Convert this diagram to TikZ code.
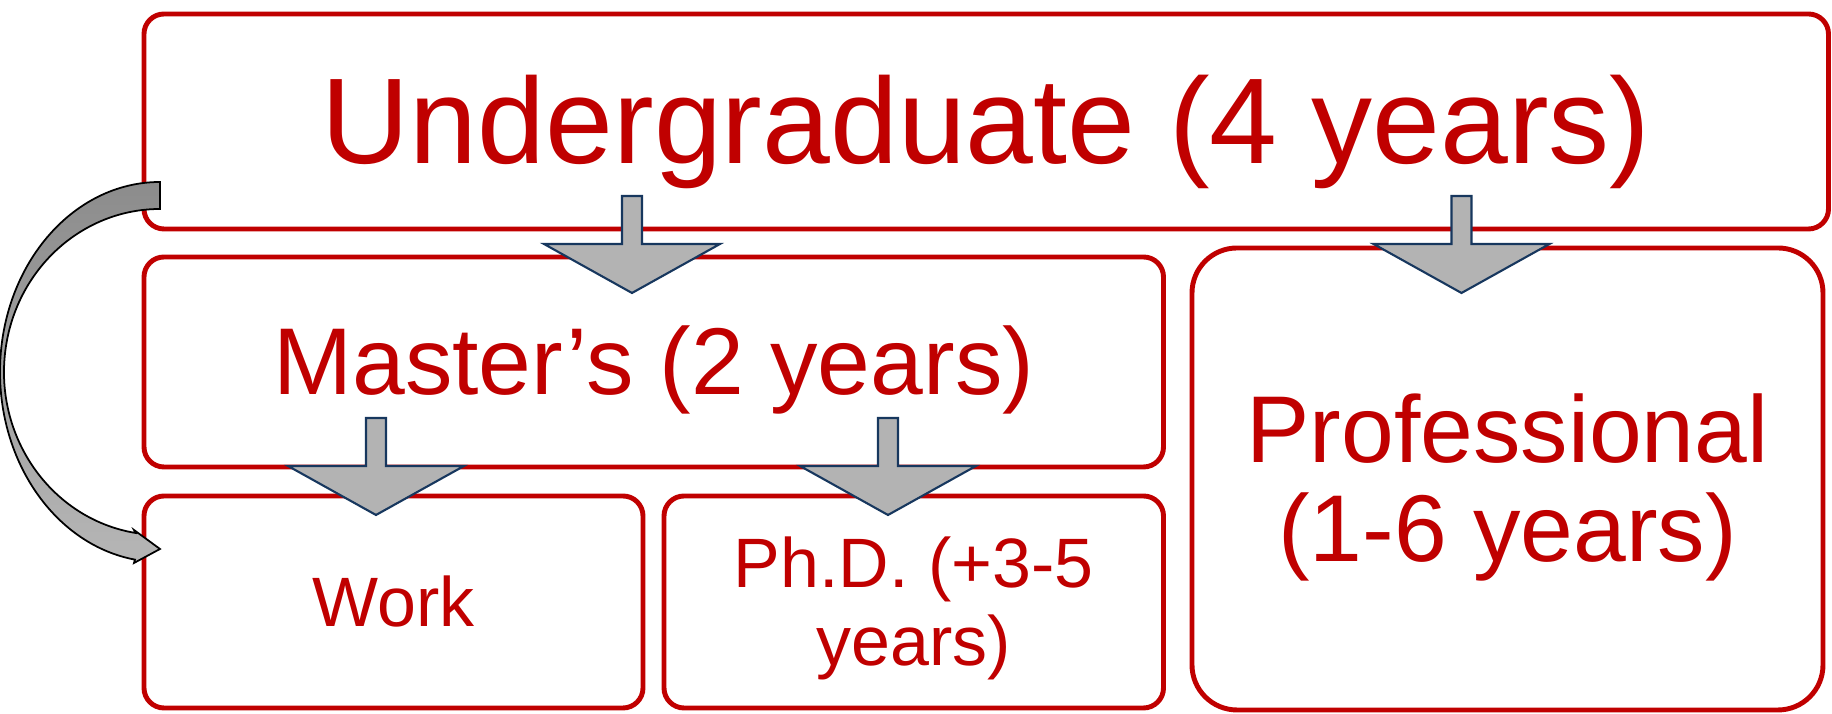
\documentclass[tikz,border=0pt]{standalone}
\usepackage{fontspec}
\setmainfont{Liberation Sans}
\definecolor{myred}{RGB}{192,0,0}
\definecolor{mydarkblue}{RGB}{23,55,94}
\definecolor{mygray}{RGB}{179,179,179}
\definecolor{mytopgray}{RGB}{140,140,140}
\definecolor{mybotgray}{RGB}{182,182,182}
\tikzset{
    stagebox/.style={draw=myred, line width=1.4pt, rounded corners=0.2cm, text=myred, inner sep=0pt, align=center},
    blockarrow/.style={fill=mygray, draw=mydarkblue, line width=0.6pt, line join=miter}
}
\newcommand{\tstrut}{\rule{0pt}{0.905em}}
\newcommand{\bstrut}{\rule[-0.212em]{0pt}{0pt}}

\begin{document}
\begin{tikzpicture}
        \useasboundingbox (0,0) rectangle (18.32,7.14);
        \node[stagebox, minimum width=16.845cm, minimum height=2.15cm, font=\fontsize{34.7pt}{40pt}\selectfont] (ug) at (9.8625,5.925) {\tstrut Undergraduate (4 years)\bstrut};
        \node[stagebox, minimum width=10.195cm, minimum height=2.10cm, font=\fontsize{27pt}{28.2pt}\selectfont] (ms) at (6.5375,3.52) {\tstrut Master’s (2 years)\bstrut};
        \node[stagebox, minimum width=4.99cm, minimum height=2.12cm, font=\fontsize{19.9pt}{22.2pt}\selectfont] (work) at (3.935,1.12) {\tstrut Work\bstrut};
        \node[stagebox, minimum width=4.995cm, minimum height=2.12cm, font=\fontsize{19.9pt}{22.2pt}\selectfont] (phd) at (9.1375,1.12) {\tstrut Ph.D. (+3-5\\ years)\bstrut};
        \node[stagebox, rounded corners=0.45cm, minimum width=6.31cm, minimum height=4.62cm, font=\fontsize{27pt}{28.2pt}\selectfont] (prof) at (15.075,2.35) {\tstrut Professional\\ (1-6 years)\bstrut};
        \foreach \x/\y in {6.32/5.18, 14.615/5.18, 3.76/2.96, 8.88/2.96}
            \draw[blockarrow] (\x,\y) ++(-0.10,0) -- ++(0.20,0) -- ++(0,-0.48) -- ++(0.78,0) -- ++(-0.88,-0.49) -- ++(-0.88,0.49) -- ++(0.78,0) -- cycle;
        \draw[line width=0.5pt, top color=mytopgray, bottom color=mybotgray] (1.60,5.32) arc[start angle=90, end angle=261, x radius=1.60, y radius=1.90] -- (1.34,1.51) -- (1.60,1.65) -- (1.34,1.84) -- (1.356,1.81) arc[start angle=261, end angle=90, x radius=1.56, y radius=1.63] -- cycle;
\end{tikzpicture}
\end{document}
